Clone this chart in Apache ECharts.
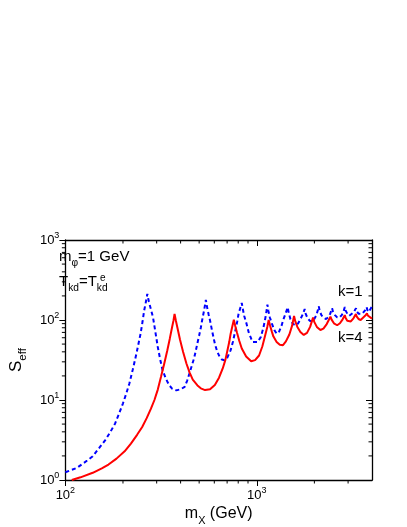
<!DOCTYPE html>
<html>
<head>
<meta charset="utf-8">
<title>S_eff vs m_X</title>
<script src="https://cdn.jsdelivr.net/npm/echarts@6/dist/echarts.min.js"></script>
<style>
  html, body { margin: 0; padding: 0; background: #fff; }
  #chart { width: 407px; height: 527px; }
</style>
</head>
<body>
<div id="chart"></div>
<script>
// k=1, blue dashed
var blueX = [100, 115, 130, 139, 150, 162, 172, 182, 191, 200, 208, 216, 225, 233, 240, 247, 253, 258, 263, 268,
  273, 280, 287, 295, 304, 313, 322, 335, 348, 362, 380, 400, 420, 433, 445, 458, 470, 480, 489, 500, 510, 518, 530, 542,
  550, 560, 570, 585, 604, 620, 640, 658, 677, 700, 730, 750, 773, 790, 803, 818, 835,
  845, 860, 884, 908, 935, 955, 975, 1010, 1049, 1080, 1103, 1120, 1137,
  1150, 1170, 1200, 1235, 1271, 1310, 1350, 1371, 1410, 1450,
  1470, 1500, 1540, 1590, 1640, 1690, 1740, 1780,
  1800, 1840, 1890, 1940, 1990, 2050, 2110,
  2130, 2180, 2240, 2300, 2360, 2420, 2475,
  2500, 2560, 2630, 2700, 2780, 2840, 2884,
  2910, 2970, 3040, 3110, 3200, 3300,
  3330, 3400, 3470, 3560, 3680, 3750,
  3780, 3850, 3920, 4000];
var blueY = [1.25, 1.42, 1.75, 1.98, 2.5, 3.18, 4.0, 5.1, 6.8, 9.1, 12, 16.1, 24, 34.5, 48, 67, 95, 131, 165, 212,
  170, 135, 108, 72, 46, 32, 23.6, 18.5, 15.4, 13.8, 13.2, 13.6, 14.6, 17.5, 21.5, 27, 33, 41, 50.6, 64, 80, 98.6, 130, 178,
  145, 118, 98.6, 72, 50.6, 41, 34.5, 32, 31.4, 33.5, 41.8, 53, 74, 95, 119, 138, 163,
  138, 112, 90, 70, 58.4, 53, 50.6, 53, 61.1, 78, 98.6, 122, 156,
  130, 108, 90, 75, 67.4, 72, 86, 98.6, 118, 144,
  122, 102, 90, 86, 90, 102, 118, 137,
  120, 106, 98, 96, 101, 115, 148,
  130, 114, 106, 103, 108, 120, 140,
  128, 115, 108, 107, 115, 128, 145,
  132, 120, 113, 114, 124, 140,
  128, 120, 117, 120, 132, 145,
  134, 126, 130, 148];

// k=4, red solid
var redX = [108, 120, 139, 155, 168, 185, 204, 220, 237, 252, 266, 280, 292, 304, 316, 328, 341, 351, 361, 367, 372,
  378, 385, 397, 412, 429, 446, 463, 490, 510, 537, 570, 604, 635, 664, 685, 703, 718, 730, 745, 759,
  772, 788, 810, 835, 880, 935, 980, 1028, 1070, 1111, 1135, 1154,
  1175, 1200, 1222, 1270, 1319, 1371, 1420, 1480, 1530, 1566,
  1590, 1630, 1690, 1760, 1830, 1900, 1968,
  2000, 2060, 2150, 2230, 2320, 2426,
  2460, 2530, 2630, 2720, 2810, 2883,
  2910, 2970, 3030, 3100, 3200, 3296,
  3330, 3400, 3490, 3570, 3680, 3765,
  3800, 3880, 4000];
var redY = [1.0, 1.08, 1.23, 1.4, 1.56, 1.85, 2.28, 2.85, 3.67, 4.6, 5.93, 7.8, 10, 13.5, 19.5, 28, 41.8, 58, 81, 98, 119,
  98, 80, 57, 40, 28.6, 22, 18, 15.2, 14, 13.3, 13.6, 15.4, 19, 24.8, 31.5, 41.8, 53, 67, 83, 101,
  84, 70, 55, 44, 35, 30.5, 31.5, 36, 47, 67, 82, 100,
  84, 71, 62, 53, 49, 48.5, 54, 66, 85, 112,
  96, 82, 71, 65, 69, 82, 107,
  94, 82, 75, 78, 89, 110,
  101, 91, 86, 91, 102, 115,
  107, 98, 94, 96, 105, 119,
  110, 103, 100, 104, 113, 121,
  114, 108, 104];

var xMinorTicks = [200, 300, 400, 500, 600, 700, 800, 900, 2000, 3000];
var yMinorTicks = [2, 3, 4, 5, 6, 7, 8, 9, 20, 30, 40, 50, 60, 70, 80, 90, 200, 300, 400, 500, 600, 700, 800, 900];

var font = '"Liberation Sans", Arial, sans-serif';

function pairs(xs, ys) {
  var out = [];
  for (var i = 0; i < xs.length; i++) out.push([xs[i], ys[i]]);
  return out;
}

function powLabel(v) {
  var e = Math.round(Math.log(v) / Math.LN10);
  return '{b|10}{s|' + e + '}';
}

var tickRich = {
  b: { fontSize: 13, fontFamily: font, color: '#000', lineHeight: 18 },
  s: { fontSize: 9, fontFamily: font, color: '#000', verticalAlign: 'top', lineHeight: 10 }
};

function textRich(size) {
  return {
    a: { fontSize: size, fontFamily: font, color: '#000', lineHeight: size + 8 },
    s: { fontSize: size * 0.68, fontFamily: font, color: '#000', verticalAlign: 'bottom', lineHeight: size * 0.68 }
  };
}

// minor ticks along bottom (outward) and top (inward)
function renderXMinor(params, api) {
  var x = api.coord([api.value(0), api.value(1)])[0];
  var cs = params.coordSys;
  var b = cs.y + cs.height, t = cs.y;
  return { type: 'group', children: [
    { type: 'line', shape: { x1: x, y1: b, x2: x, y2: b + 3.5 }, style: { stroke: '#000', lineWidth: 1 } },
    { type: 'line', shape: { x1: x, y1: t, x2: x, y2: t + 3.5 }, style: { stroke: '#000', lineWidth: 1 } }
  ]};
}
// minor ticks along left (outward) and right (inward)
function renderYMinor(params, api) {
  var y = api.coord([api.value(0), api.value(1)])[1];
  var cs = params.coordSys;
  var l = cs.x, r = cs.x + cs.width;
  return { type: 'group', children: [
    { type: 'line', shape: { x1: l, y1: y, x2: l - 3.5, y2: y }, style: { stroke: '#000', lineWidth: 1 } },
    { type: 'line', shape: { x1: r, y1: y, x2: r - 3.5, y2: y }, style: { stroke: '#000', lineWidth: 1 } }
  ]};
}

var axisLine = { lineStyle: { color: '#000', width: 1.3 } };

var chart = echarts.init(document.getElementById('chart'), null, { renderer: 'canvas' });
chart.setOption({
  animation: false,
  backgroundColor: '#fff',
  grid: { left: 49.5, top: 240, width: 322.5, height: 240.5, containLabel: false },
  xAxis: [{
    type: 'log', logBase: 10, min: 100, max: 4000, position: 'bottom',
    axisLine: axisLine,
    axisTick: { inside: false, length: 6, lineStyle: { color: '#000', width: 1 } },
    axisLabel: { formatter: powLabel, rich: tickRich, margin: 6, showMaxLabel: false },
    splitLine: { show: false },
    name: '{a|m}{s|X}{a| (GeV)}', nameLocation: 'middle', nameGap: 22,
    nameTextStyle: { rich: textRich(16) }
  }, {
    type: 'log', logBase: 10, min: 100, max: 4000, position: 'top',
    axisLine: axisLine,
    axisTick: { inside: true, length: 6, lineStyle: { color: '#000', width: 1 } },
    axisLabel: { show: false },
    splitLine: { show: false }
  }],
  yAxis: [{
    type: 'log', logBase: 10, min: 1, max: 1000, position: 'left',
    axisLine: axisLine,
    axisTick: { inside: false, length: 6, lineStyle: { color: '#000', width: 1 } },
    axisLabel: { formatter: powLabel, rich: tickRich, margin: 6 },
    splitLine: { show: false },
    name: '{a|S}{s|eff}', nameLocation: 'middle', nameGap: 31,
    nameTextStyle: { rich: textRich(17) }
  }, {
    type: 'log', logBase: 10, min: 1, max: 1000, position: 'right',
    axisLine: axisLine,
    axisTick: { inside: true, length: 6, lineStyle: { color: '#000', width: 1 } },
    axisLabel: { show: false },
    splitLine: { show: false }
  }],
  series: [{
    name: 'k=1', type: 'line', xAxisIndex: 0, yAxisIndex: 0,
    data: pairs(blueX, blueY), showSymbol: false, smooth: false,
    lineStyle: { color: '#0000ff', width: 2, type: [4, 3] }
  }, {
    name: 'k=4', type: 'line', xAxisIndex: 0, yAxisIndex: 0,
    data: pairs(redX, redY), showSymbol: false, smooth: false,
    lineStyle: { color: '#ff0000', width: 2 }
  }, {
    type: 'custom', xAxisIndex: 0, yAxisIndex: 0, silent: true, clip: false, z: 5,
    renderItem: renderXMinor,
    data: xMinorTicks.map(function (v) { return [v, 1]; })
  }, {
    type: 'custom', xAxisIndex: 0, yAxisIndex: 0, silent: true, clip: false, z: 5,
    renderItem: renderYMinor,
    data: yMinorTicks.map(function (v) { return [100, v]; })
  }],
  graphic: [
    { type: 'text', left: 59, top: 249, style: { text: '{a|m}{s|φ}{a|=1 GeV}', rich: textRich(15) } },
    { type: 'text', left: 59, top: 274, style: { text: '{a|T}{s|kd}{a|=T}{s|kd}', rich: textRich(15) } },
    { type: 'text', left: 100, top: 273, style: { text: 'e', fontSize: 10, fontFamily: font, fill: '#000' } },
    { type: 'text', left: 338, top: 284, style: { text: 'k=1', fontSize: 15, fontFamily: font, fill: '#000' } },
    { type: 'text', left: 338, top: 330, style: { text: 'k=4', fontSize: 15, fontFamily: font, fill: '#000' } }
  ]
});
</script>
</body>
</html>
